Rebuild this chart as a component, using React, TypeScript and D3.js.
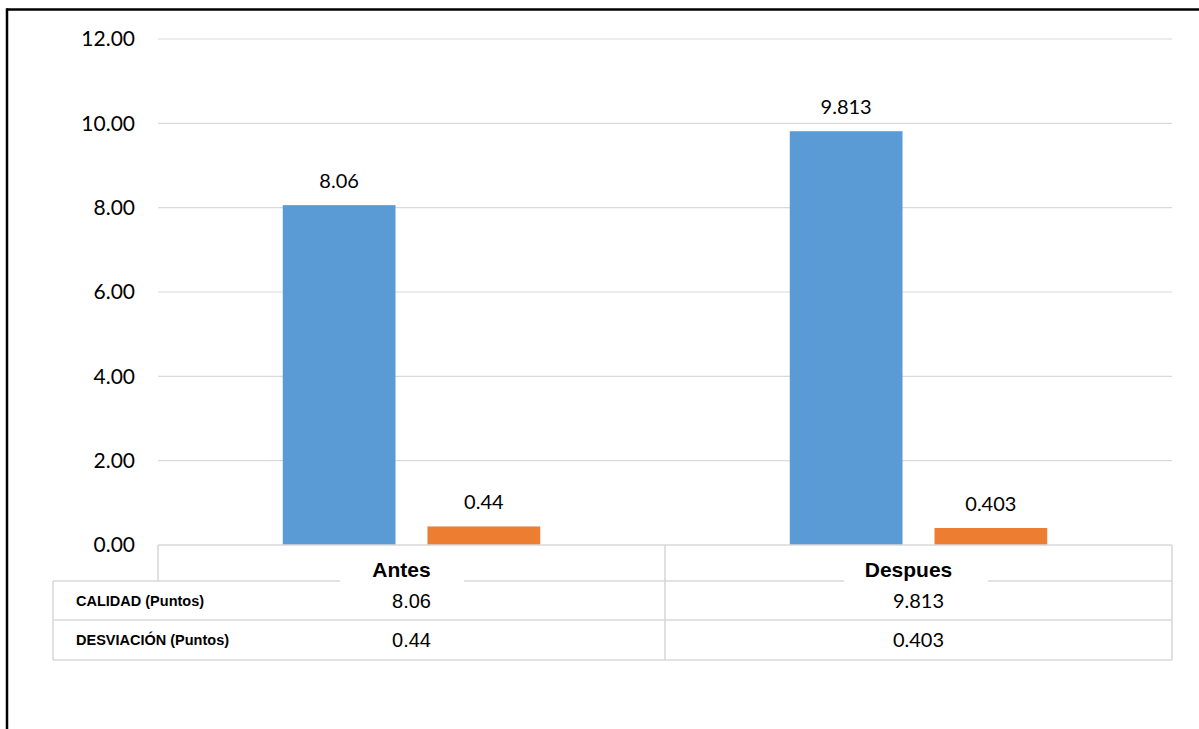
import React from "react";
import * as d3 from "d3";

// Chart data
const categories = ["Antes", "Despues"];
const seriesNames = ["CALIDAD (Puntos)", "DESVIACIÓN (Puntos)"];
const calidad = [8.06, 9.813];
const desviacion = [0.44, 0.403];
const calidadLabels = ["8.06", "9.813"];
const desviacionLabels = ["0.44", "0.403"];
const yTicks = [0, 2, 4, 6, 8, 10, 12];

const W = 1199;
const H = 729;
const plot = { left: 158, right: 1172, top: 39, bottom: 545 };
const colors = ["#5B9BD5", "#ED7D31"];
const grid = "#d9d9d9";
const numFont = "Lato, 'Open Sans', sans-serif";
const arialFont = "'Liberation Sans', Arial, sans-serif";

// white backing behind each category header: [offset from band centre, width]
const headerBacking: [number, number][] = [
  [-9.5, 124],
  [-2.5, 144],
];

export default function App() {
  const x = d3.scaleBand<string>().domain(categories).range([plot.left, plot.right]);
  const y = d3.scaleLinear().domain([0, 12]).range([plot.bottom, plot.top]);
  const inner = d3
    .scaleBand<string>()
    .domain(seriesNames)
    .range([0, x.bandwidth()])
    .paddingInner(0.221)
    .paddingOuter(0.862);

  const series = [
    { name: seriesNames[0], values: calidad, labels: calidadLabels },
    { name: seriesNames[1], values: desviacion, labels: desviacionLabels },
  ];

  const rowY = [581, 620, 660];
  const tableLeft = 53;
  const midX = plot.left + x.bandwidth();

  return (
    <svg
      width={W}
      height={H}
      style={{ position: "absolute", left: 0, top: 0, background: "#fff" }}
    >
      {/* outer frame */}
      <line x1={7} y1={9.5} x2={W} y2={9.5} stroke="#000" strokeWidth={2.5} />
      <line x1={7} y1={8.3} x2={7} y2={H} stroke="#000" strokeWidth={2.5} />

      {/* gridlines and y ticks */}
      {yTicks.map((t) => (
        <g key={t}>
          {t !== 0 && (
            <line x1={plot.left} x2={plot.right} y1={y(t)} y2={y(t)} stroke={grid} strokeWidth={1.2} />
          )}
          <text
            x={135}
            y={y(t)}
            dy="0.35em"
            textAnchor="end"
            fontFamily={numFont}
            fontSize={21}
            fill="#000"
          >
            {d3.format(".2f")(t)}
          </text>
        </g>
      ))}

      {/* bars */}
      {series.map((s, si) =>
        categories.map((c, ci) => {
          const bx = (x(c) ?? 0) + (inner(s.name) ?? 0);
          const bw = inner.bandwidth();
          return (
            <g key={s.name + c}>
              <rect
                x={bx}
                y={y(s.values[ci])}
                width={bw}
                height={y(0) - y(s.values[ci])}
                fill={colors[si]}
              />
              <text
                x={bx + bw / 2}
                y={y(s.values[ci]) - 24}
                dy="0.35em"
                textAnchor="middle"
                fontFamily={numFont}
                fontSize={20}
                fill="#000"
              >
                {s.labels[ci]}
              </text>
            </g>
          );
        })
      )}

      {/* data table */}
      <g stroke={grid} strokeWidth={1.6} fill="none">
        <line x1={plot.left} x2={plot.right} y1={plot.bottom} y2={plot.bottom} />
        <line x1={plot.left} x2={plot.left} y1={plot.bottom} y2={rowY[0]} />
        {rowY.map((ry) => (
          <line key={ry} x1={tableLeft} x2={plot.right} y1={ry} y2={ry} />
        ))}
        <line x1={tableLeft} x2={tableLeft} y1={rowY[0]} y2={rowY[2]} />
        <line x1={midX} x2={midX} y1={plot.bottom} y2={rowY[2]} />
        <line x1={plot.right} x2={plot.right} y1={plot.bottom} y2={rowY[2]} />
      </g>

      {categories.map((c, ci) => {
        const center = (x(c) ?? 0) + x.bandwidth() / 2;
        const [off, boxW] = headerBacking[ci];
        return (
          <g key={c}>
            <rect x={center + off - boxW / 2} y={558} width={boxW} height={26} fill="#fff" />
            <text
              x={center - 10}
              y={570}
              dy="0.35em"
              textAnchor="middle"
              fontFamily={arialFont}
              fontWeight="bold"
              fontSize={21}
              fill="#000"
            >
              {c}
            </text>
          </g>
        );
      })}

      {series.map((s, si) => {
        const cy = (rowY[si] + rowY[si + 1]) / 2;
        return (
          <g key={s.name}>
            <text
              x={76}
              y={cy}
              dy="0.35em"
              fontFamily={arialFont}
              fontWeight="bold"
              fontSize={14.5}
              fill="#000"
            >
              {s.name}
            </text>
            {categories.map((c, ci) => (
              <text
                key={c}
                x={(x(c) ?? 0) + x.bandwidth() / 2}
                y={cy}
                dy="0.35em"
                textAnchor="middle"
                fontFamily={ci === 0 ? arialFont : numFont}
                fontSize={20}
                fill="#000"
              >
                {s.labels[ci]}
              </text>
            ))}
          </g>
        );
      })}
    </svg>
  );
}
